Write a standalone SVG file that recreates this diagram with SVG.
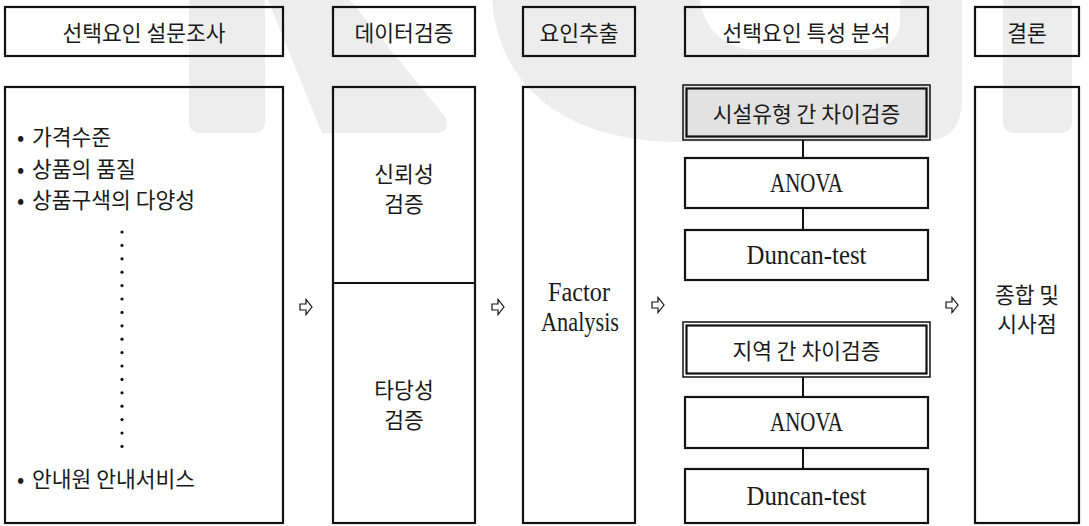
<svg xmlns="http://www.w3.org/2000/svg" width="1089" height="526" viewBox="0 0 1089 526">
<style>
.box{fill:none;stroke:#111;stroke-width:2.2}
.wm{fill:#ededed}
.ko{font-family:"Noto Sans CJK KR","Noto Sans",sans-serif;font-size:21.5px;fill:#1a1a1a}
.lat{font-family:"Liberation Serif","Noto Sans CJK KR",serif;font-size:27px;fill:#1a1a1a}
.c{text-anchor:middle;dominant-baseline:central}
.m{dominant-baseline:central}
.con{stroke:#111;stroke-width:2;fill:none}
.arr{fill:#fff;stroke:#111;stroke-width:1.2;stroke-linejoin:miter}
.dot{fill:#111}
</style>
<defs>
<path id="arrow" class="arr" d="M-6,-3 L0,-3 L0,-7.5 L6,0 L0,7.5 L0,3 L-6,3 Z"/>
</defs>
<rect width="1089" height="526" fill="#fff"/>
<g id="watermark">
<rect class="wm" x="189" y="-12" width="76" height="145" rx="10"/>
<path class="wm" d="M268,0 L350,0 L446,118 Q450,133 436,133 L322,133 Z"/>
<path class="wm" fill-rule="evenodd" d="M492,0 C500,95 575,142 680,142 L920,142 Q962,142 962,100 L962,0 Z M700,0 C705,35 730,50 760,50 L860,50 Q900,50 900,20 L900,0 Z"/>
<rect class="wm" x="1003" y="-12" width="69" height="145" rx="10"/>
</g>
<g id="headers">
<g id="h1"><rect class="box" x="5" y="7" width="278" height="49"/><text class="ko c" x="144" y="31">선택요인 설문조사</text></g>
<g id="h2"><rect class="box" x="333" y="7" width="142" height="49"/><text class="ko c" x="404" y="31">데이터검증</text></g>
<g id="h3"><rect class="box" x="523" y="7" width="112" height="49"/><text class="ko c" x="579" y="31">요인추출</text></g>
<g id="h4"><rect class="box" x="685" y="7" width="243" height="49"/><text class="ko c" x="806.5" y="31">선택요인 특성 분석</text></g>
<g id="h5"><rect class="box" x="975" y="7" width="104" height="49"/><text class="ko c" x="1027" y="31">결론</text></g>
</g>
<g id="survey">
<rect class="box" x="5" y="87" width="278" height="436"/>
<text class="ko m" y="135"><tspan x="17">•</tspan><tspan x="32">가격수준</tspan></text>
<text class="ko m" y="167"><tspan x="17">•</tspan><tspan x="32">상품의 품질</tspan></text>
<text class="ko m" y="198"><tspan x="17">•</tspan><tspan x="32">상품구색의 다양성</tspan></text>
<text class="ko m" y="477"><tspan x="17">•</tspan><tspan x="32">안내원 안내서비스</tspan></text>
<g id="ellipsis">
<circle class="dot" cx="122" cy="232" r="1.6"/><circle class="dot" cx="122" cy="245.4" r="1.6"/><circle class="dot" cx="122" cy="258.8" r="1.6"/><circle class="dot" cx="122" cy="272.2" r="1.6"/><circle class="dot" cx="122" cy="285.6" r="1.6"/><circle class="dot" cx="122" cy="299" r="1.6"/><circle class="dot" cx="122" cy="312.4" r="1.6"/><circle class="dot" cx="122" cy="325.8" r="1.6"/><circle class="dot" cx="122" cy="339.2" r="1.6"/><circle class="dot" cx="122" cy="352.6" r="1.6"/><circle class="dot" cx="122" cy="366" r="1.6"/><circle class="dot" cx="122" cy="379.4" r="1.6"/><circle class="dot" cx="122" cy="392.8" r="1.6"/><circle class="dot" cx="122" cy="406.2" r="1.6"/><circle class="dot" cx="122" cy="419.6" r="1.6"/><circle class="dot" cx="122" cy="433" r="1.6"/><circle class="dot" cx="122" cy="446.4" r="1.6"/>
</g>
</g>
<g id="validation">
<rect class="box" x="333" y="87" width="142" height="436"/>
<line class="con" x1="333" y1="283" x2="475" y2="283" stroke-width="2.2"/>
<text class="ko c" x="404" y="172">신뢰성</text>
<text class="ko c" x="404" y="202">검증</text>
<text class="ko c" x="404" y="388">타당성</text>
<text class="ko c" x="404" y="418">검증</text>
</g>
<g id="factor">
<rect class="box" x="523" y="87" width="112" height="436"/>
<text class="lat c" x="579" y="292" textLength="62" lengthAdjust="spacingAndGlyphs">Factor</text>
<text class="lat c" x="580" y="322" textLength="78" lengthAdjust="spacingAndGlyphs">Analysis</text>
</g>
<g id="test1">
<rect fill="#e2e2e2" stroke="#111" stroke-width="1.5" x="683" y="85" width="247" height="55"/>
<rect class="box" x="686.5" y="88.5" width="240" height="48"/>
<text class="ko c" x="806.5" y="112">시설유형 간 차이검증</text>
</g>
<g id="anova1"><rect class="box" x="685" y="158" width="243" height="50"/><text class="lat c" x="806.5" y="183" textLength="73" lengthAdjust="spacingAndGlyphs">ANOVA</text></g>
<g id="duncan1"><rect class="box" x="685" y="230" width="243" height="50"/><text class="lat c" x="806.5" y="255" textLength="120" lengthAdjust="spacingAndGlyphs">Duncan-test</text></g>
<g id="test2">
<rect fill="#fff" stroke="#111" stroke-width="1.5" x="683" y="322" width="247" height="55"/>
<rect class="box" x="686.5" y="325.5" width="240" height="48"/>
<text class="ko c" x="806.5" y="349">지역 간 차이검증</text>
</g>
<g id="anova2"><rect class="box" x="685" y="397" width="243" height="51"/><text class="lat c" x="806.5" y="422" textLength="73" lengthAdjust="spacingAndGlyphs">ANOVA</text></g>
<g id="duncan2"><rect class="box" x="685" y="469" width="243" height="54"/><text class="lat c" x="806.5" y="496" textLength="120" lengthAdjust="spacingAndGlyphs">Duncan-test</text></g>
<g id="conclusion">
<rect class="box" x="975" y="87" width="104" height="436"/>
<text class="ko c" x="1027" y="293">종합 및</text>
<text class="ko c" x="1027" y="322">시사점</text>
</g>
<g id="connectors">
<line class="con" x1="803" y1="140" x2="803" y2="158"/>
<line class="con" x1="803" y1="208" x2="803" y2="230"/>
<line class="con" x1="803" y1="377" x2="803" y2="397"/>
<line class="con" x1="803" y1="448" x2="803" y2="469"/>
<use href="#arrow" x="306" y="307"/>
<use href="#arrow" x="498" y="307"/>
<use href="#arrow" x="658" y="305"/>
<use href="#arrow" x="952" y="305"/>
</g>
</svg>
